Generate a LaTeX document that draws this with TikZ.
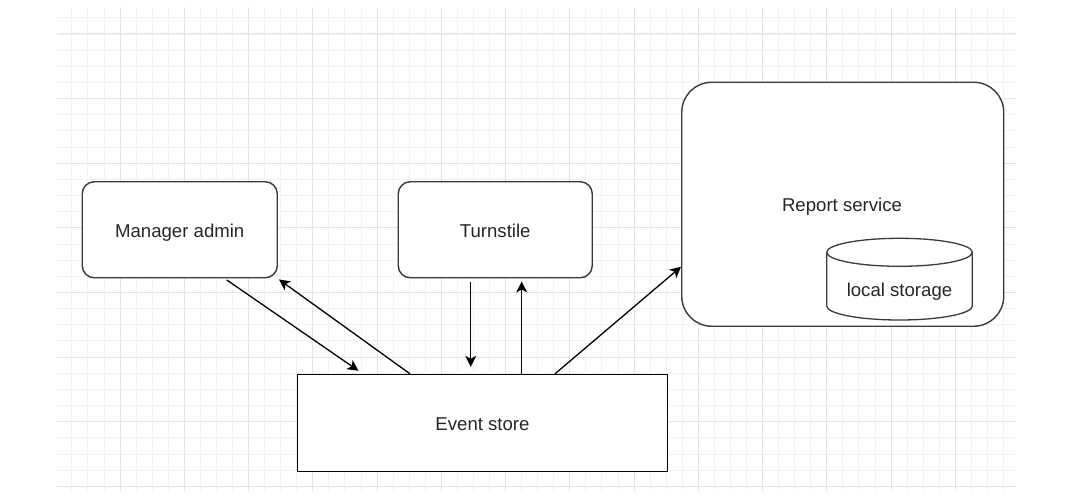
\documentclass[tikz,border=0pt]{standalone}
\usepackage{fontspec}
\setmainfont{Liberation Sans}
\usetikzlibrary{arrows.meta}
\definecolor{gridminor}{HTML}{F2F2F2}
\definecolor{gridmajor}{HTML}{E3E3E3}
\definecolor{boxline}{HTML}{3A3A3A}
\definecolor{txt}{HTML}{262626}
\tikzset{
  box/.style={draw=boxline, line width=1.4pt, rounded corners=12pt, fill=white,
    inner sep=0pt, font=\fontsize{18.6}{22}\selectfont, text=txt,
    text height=15.8pt, text depth=0pt},
  plainbox/.style={draw=black, line width=1.4pt, fill=white, inner sep=0pt,
    font=\fontsize{18.6}{22}\selectfont, text=txt,
    text height=15.8pt, text depth=0pt},
  link/.style={draw=black, line width=1.3pt, -{Stealth[length=11pt,width=11pt,inset=3pt]}},
  lbl/.style={font=\fontsize{18.6}{22}\selectfont, text=txt, inner sep=0pt,
    text height=15.8pt, text depth=0pt},
}
\begin{document}
\begin{tikzpicture}[x=1pt,y=-1pt]
\useasboundingbox (0,0) rectangle (1074,500);
\fill[white] (0,0) rectangle (1074,500);
% grid
\begin{scope}
\clip (57,8) rectangle (1016,490);
\foreach \k in {0,...,63} {
  \draw[gridminor, line width=0.8pt] ({55.75+16.0625*\k},0) -- ({55.75+16.0625*\k},500);
}
\foreach \k in {-2,...,30} {
  \draw[gridminor, line width=0.8pt] (0,{34+16.15*\k}) -- (1074,{34+16.15*\k});
}
\foreach \k in {0,...,15} {
  \draw[gridmajor, line width=1pt] ({55.75+64.25*\k},0) -- ({55.75+64.25*\k},500);
}
\foreach \k in {-1,...,7} {
  \draw[gridmajor, line width=1pt] (0,{34+64.6*\k}) -- (1074,{34+64.6*\k});
}
\end{scope}
% nodes
\node[box, minimum width=195pt, minimum height=96pt] (man) at (179.75,229.75) {Manager admin};
\node[box, minimum width=194pt, minimum height=96pt] (turn) at (495.25,229.75) {Turnstile};
\node[box, rounded corners=30pt, minimum width=322pt, minimum height=244pt] (rep) at (842.75,204.25) {};
\node[lbl] (reptext) at (842,203.75) {Report service};
\node[plainbox, minimum width=370pt, minimum height=97pt] (ev) at (482.5,423) {Event store};
% cylinder
\draw[boxline, line width=1.3pt, fill=white]
  (826.7,252.3) -- (826.7,306) arc[start angle=180, end angle=360, x radius=72.8pt, y radius=14pt]
  -- (972.3,252.3) arc[start angle=0, end angle=180, x radius=72.8pt, y radius=14pt] -- cycle;
\draw[boxline, line width=1.3pt]
  (826.7,252.3) arc[start angle=180, end angle=360, x radius=72.8pt, y radius=14pt];
\node[lbl] (store) at (899.5,289) {local storage};
% connectors
\coordinate (a1s) at ([xshift=47pt,yshift=-1.5pt]man.south);
\coordinate (a1e) at ([xshift=-124pt,yshift=3pt]ev.north);
\draw[link] (a1s) -- (a1e);
\coordinate (a2s) at ([xshift=-72.5pt]ev.north);
\coordinate (a2e) at ([xshift=1pt,yshift=-1pt]man.south east);
\draw[link] (a2s) -- (a2e);
\coordinate (a3s) at ([xshift=-24.5pt,yshift=-4pt]turn.south);
\coordinate (a3e) at ([yshift=7pt]ev.north);
\draw[link] (a3s) -- (a3s |- a3e);
\coordinate (a4s) at ([xshift=39.2pt]ev.north);
\coordinate (a4e) at ([yshift=-3pt]turn.south);
\draw[link] (a4s) -- (a4s |- a4e);
\coordinate (a5s) at ([xshift=72.5pt]ev.north);
\coordinate (a5e) at ([yshift=-62.5pt]rep.west);
\draw[link] (a5s) -- (a5e);
\end{tikzpicture}
\end{document}
